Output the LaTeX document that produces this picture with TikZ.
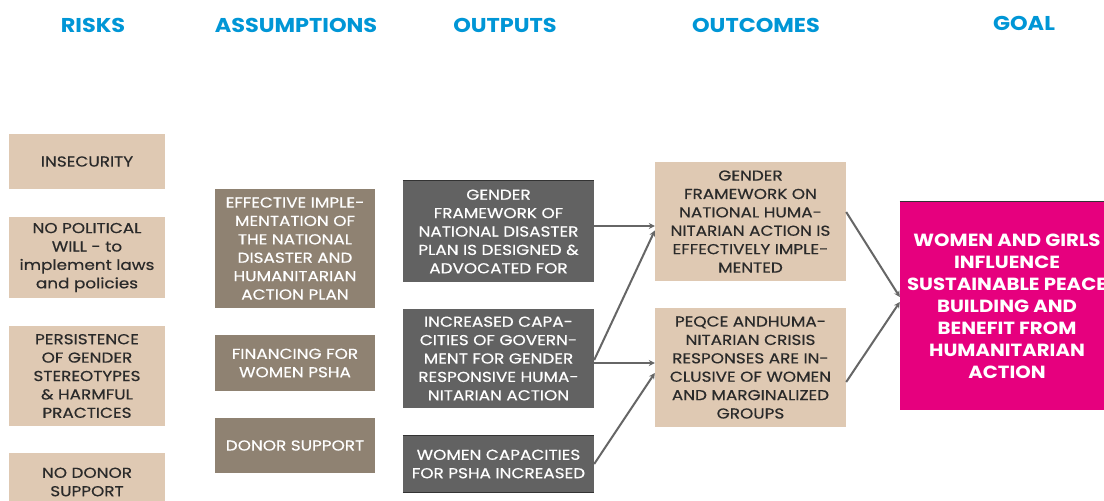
\documentclass[tikz,border=0pt]{standalone}
\usepackage{fontspec}
\setmainfont{Poppins}[FakeStretch=1.12]
\newfontfamily\boxfont{Poppins}[FakeStretch=1.17,FakeBold=0.5]
\usetikzlibrary{arrows.meta}
\definecolor{headblue}{HTML}{0096D6}
\definecolor{riskfill}{HTML}{DFC9B3}
\definecolor{assumfill}{HTML}{8F8272}
\definecolor{outfill}{HTML}{626262}
\definecolor{goalfill}{HTML}{E6007E}
\definecolor{darktext}{HTML}{2A2A2A}
\definecolor{arrowgrey}{HTML}{666666}
\begin{document}
\begin{tikzpicture}[x=1pt,y=-1pt]

    \tikzset{head/.style={font=\fontsize{20}{22}\selectfont\bfseries,text=headblue,inner sep=0pt}}
    \tikzset{box/.style={align=center,inner sep=0pt,font=\boxfont\fontsize{14.4}{18.4}\selectfont}}
    \tikzset{riskbox/.style={box,fill=riskfill,text=darktext,minimum width=156pt}}
    \tikzset{assumbox/.style={box,fill=assumfill,text=white,minimum width=160pt}}
    \tikzset{outbox/.style={box,fill=outfill,text=white,minimum width=191pt}}
    \tikzset{outcomebox/.style={box,fill=riskfill,text=darktext,minimum width=191pt}}
    \tikzset{arr/.style={draw=arrowgrey,line width=2pt,-{Stealth[length=6pt,width=6pt]}}}

    \clip (0,0) rectangle (1104,501);
    \fill[white] (0,0) rectangle (1104,501);

    % headings
    \node[head] (hrisk) at (93,25) {RISKS};
    \node[head] (hassum) at (296,25) {ASSUMPTIONS};
    \node[head] (hout) at (505,25) {OUTPUTS};
    \node[head] (houtcome) at (756,25) {OUTCOMES};
    \node[head] (hgoal) at (1024,23) {GOAL};

    % risks
    \node[riskbox,minimum height=55pt] (r1) at (87,161.5) {INSECURITY};
    \node[riskbox,minimum height=81pt] (r2) at (87,257.5) {NO POLITICAL\\WILL - to\\implement laws\\and policies};
    \node[riskbox,minimum height=100pt] (r3) at (87,376) {PERSISTENCE\\OF GENDER\\STEREOTYPES\\\& HARMFUL\\PRACTICES};
    \node[riskbox,minimum height=58pt] (r4) at (87,482) {NO DONOR\\SUPPORT};

    % assumptions
    \node[assumbox,minimum height=119pt] (a1) at (295,248.5) {EFFECTIVE IMPLE-\\MENTATION OF\\THE NATIONAL\\DISASTER AND\\HUMANITARIAN\\ACTION PLAN};
    \node[assumbox,minimum height=56pt] (a2) at (295,363) {FINANCING FOR\\WOMEN PSHA};
    \node[assumbox,minimum height=55pt] (a3) at (295,445.5) {DONOR SUPPORT};

    % outputs
    \node[outbox,minimum height=101pt] (o1) at (498.5,231.5) {GENDER\\FRAMEWORK OF\\NATIONAL DISASTER\\PLAN IS DESIGNED \&\\ADVOCATED FOR};
    \node[outbox,minimum height=99pt] (o2) at (498.5,358.5) {INCREASED CAPA-\\CITIES OF GOVERN-\\MENT FOR GENDER\\RESPONSIVE HUMA-\\NITARIAN ACTION};
    \node[outbox,minimum height=56pt] (o3) at (498.5,464) {WOMEN CAPACITIES\\FOR PSHA INCREASED};
    \draw[black!80,line width=1pt] (o1.north west) -- (o1.north east);
    \draw[black!80,line width=1pt] (o3.north west) -- (o3.north east);
    \draw[black!80,line width=1pt] (o3.south west) -- (o3.south east);

    % outcomes
    \node[outcomebox,minimum height=119pt] (oc1) at (750.5,221.5) {GENDER\\FRAMEWORK ON\\NATIONAL HUMA-\\NITARIAN ACTION IS\\EFFECTIVELY IMPLE-\\MENTED};
    \node[outcomebox,minimum height=119pt] (oc2) at (750.5,367.5) {PEQCE ANDHUMA-\\NITARIAN CRISIS\\RESPONSES ARE IN-\\CLUSIVE OF WOMEN\\AND MARGINALIZED\\GROUPS};

    % goal
    \node[align=center,inner sep=0pt,fill=goalfill,text=white,minimum width=214pt,minimum height=208pt,font=\fontsize{17.6}{22}\selectfont\bfseries] (goal) at (1007,306) {WOMEN AND GIRLS\\INFLUENCE\\SUSTAINABLE PEACE\\BUILDING AND\\BENEFIT FROM\\HUMANITARIAN\\ACTION};
    \draw[black!80,line width=1pt] (goal.north west) -- (goal.north east);

    % arrows
    \draw[arr] ([yshift=5.5pt]o1.east) -- ([yshift=-4.5pt]oc1.west);
    \draw[arr] ([yshift=-4.5pt]o2.east) -- ([yshift=4.5pt]oc2.west);
    \draw[arr] ([yshift=-1.5pt]o2.east) -- ([yshift=-9pt]oc1.west);
    \draw[arr] (o3.east) -- ([yshift=-5.5pt]oc2.west);
    \draw[arr] ([yshift=9.5pt]oc1.east) -- ([yshift=9pt]goal.west);
    \draw[arr] ([yshift=-14.5pt]oc2.east) -- ([yshift=4pt]goal.west);

\end{tikzpicture}
\end{document}
